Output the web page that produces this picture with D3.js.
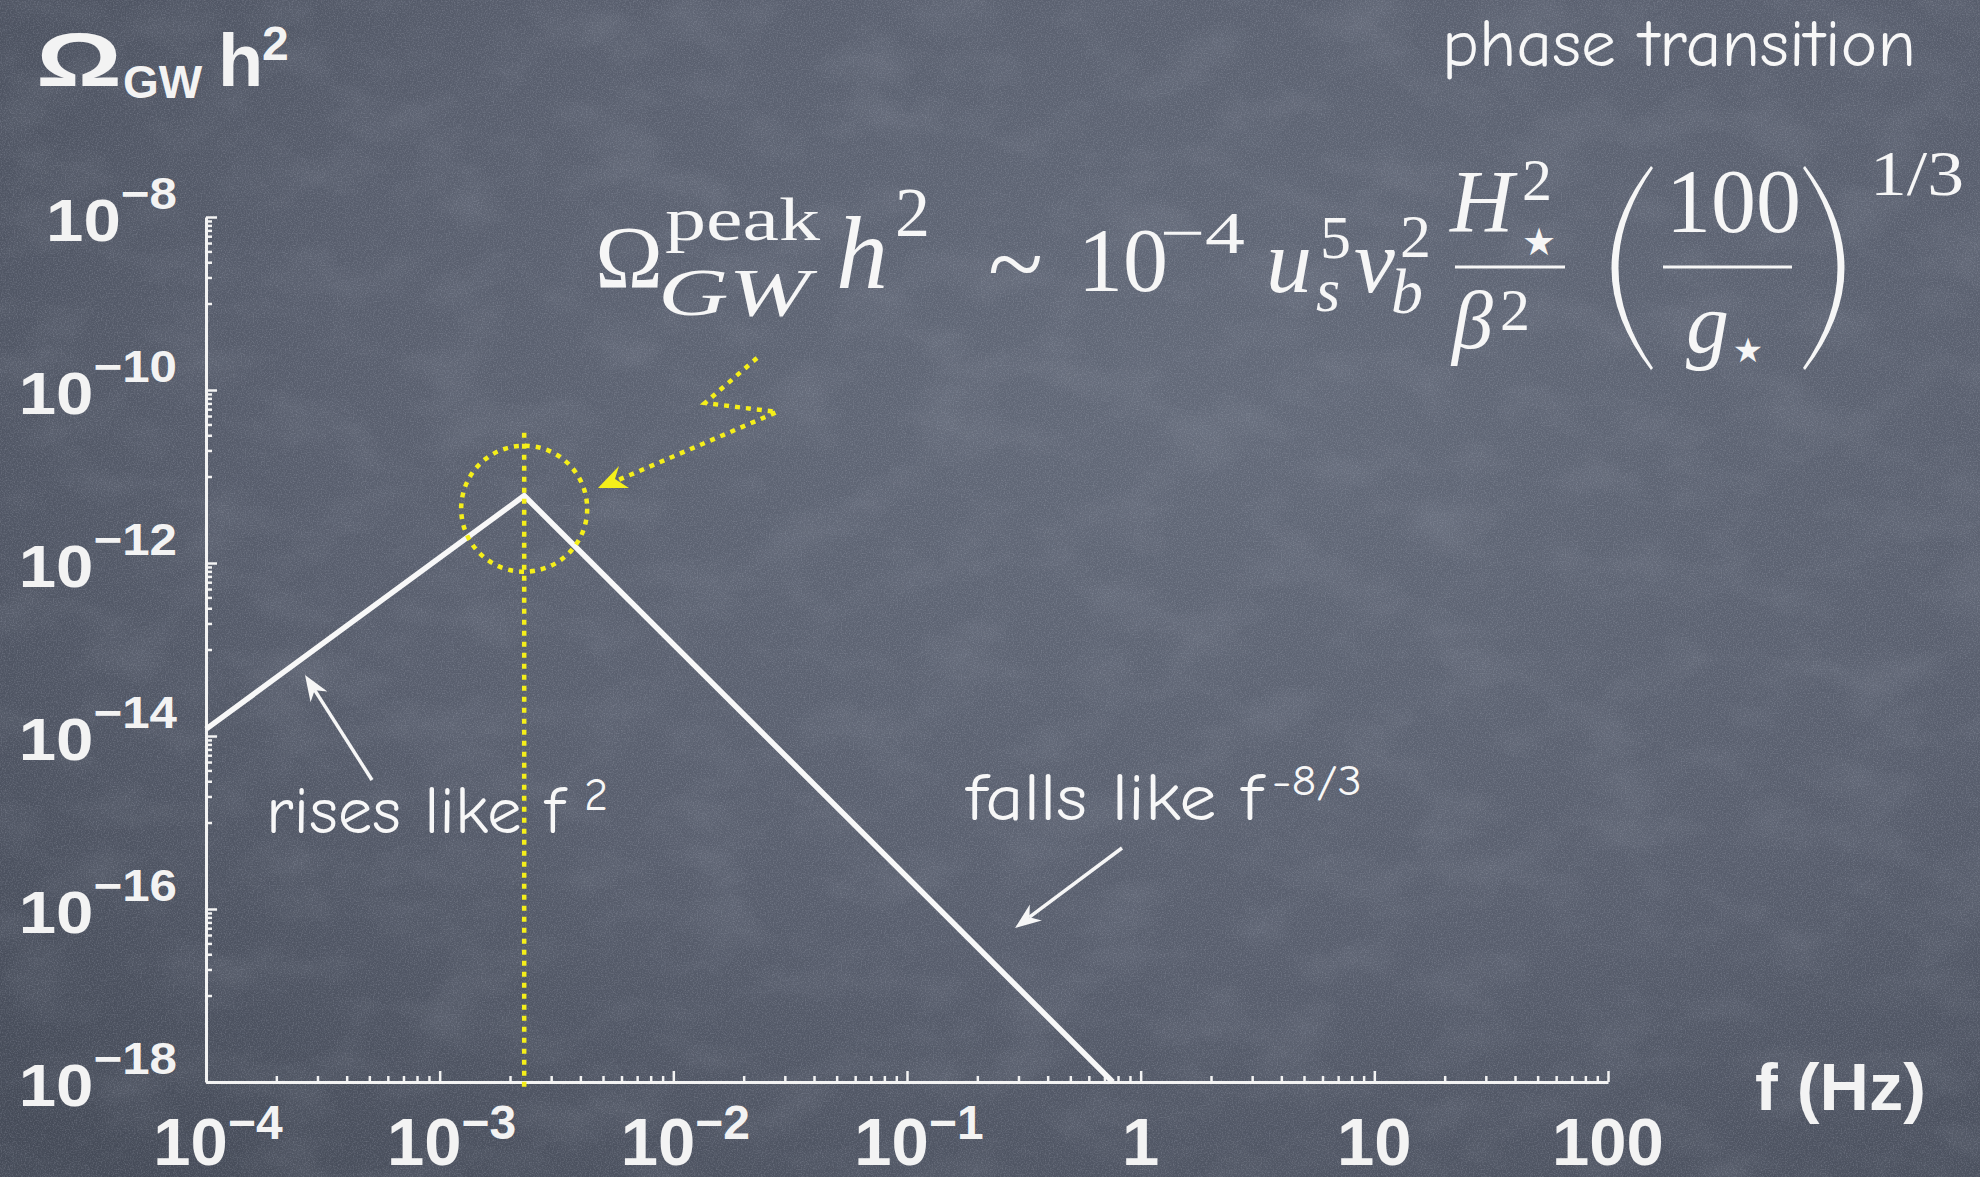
<!DOCTYPE html>
<html>
<head>
<meta charset="utf-8">
<script src="https://cdn.jsdelivr.net/npm/d3@7"></script>
<style>
  html, body { margin: 0; padding: 0; background: #555c6b; overflow: hidden; }
  svg { display: block; }
</style>
</head>
<body>
<svg id="board" width="1980" height="1177"></svg>
<script>
// Broken power-law GW spectrum: rises like f^2, peaks, falls like f^-8/3
const spectrumFreq  = [1e-4, 2.3e-3, 0.76];
const spectrumOmega = [1.2e-14, 6e-12, 1e-18];
const peakMarkerTop = 3.2e-11;

// Frequency axis (Hz)
const xTickValues = [1e-4, 1e-3, 1e-2, 1e-1, 1, 10, 100];
const xTickBase   = ["10", "10", "10", "10", "1", "10", "100"];
const xTickExp    = ["−4", "−3", "−2", "−1", "", "", ""];

// Omega_GW h^2 axis
const yTickValues = [1e-8, 1e-10, 1e-12, 1e-14, 1e-16, 1e-18];
const yTickBase   = ["10", "10", "10", "10", "10", "10"];
const yTickExp    = ["−8", "−10", "−12", "−14", "−16", "−18"];
const yMinorDecades = [-9, -11, -13, -15, -17];

const W = 1980, H = 1177;
const svg = d3.select("#board");

// ---------- chalkboard ----------
const defs = svg.append("defs");
const shade = defs.append("radialGradient").attr("id", "boardShade")
  .attr("cx", 0.62).attr("cy", 0.35).attr("r", 0.85);
shade.append("stop").attr("offset", 0).attr("stop-color", "#636a79");
shade.append("stop").attr("offset", 0.55).attr("stop-color", "#585e6d");
shade.append("stop").attr("offset", 1).attr("stop-color", "#454b58");

const dust = defs.append("filter").attr("id", "chalkDust")
  .attr("x", 0).attr("y", 0).attr("width", "100%").attr("height", "100%");
dust.append("feTurbulence").attr("type", "fractalNoise")
  .attr("baseFrequency", "0.012 0.02").attr("numOctaves", 4).attr("seed", 7);
dust.append("feColorMatrix").attr("type", "matrix")
  .attr("values", "0 0 0 0 0.82  0 0 0 0 0.86  0 0 0 0 0.95  1.0 0 0 0 -0.45");

const grain = defs.append("filter").attr("id", "grain")
  .attr("x", 0).attr("y", 0).attr("width", "100%").attr("height", "100%");
grain.append("feTurbulence").attr("type", "fractalNoise")
  .attr("baseFrequency", 0.75).attr("numOctaves", 2).attr("seed", 3);
grain.append("feColorMatrix").attr("type", "matrix")
  .attr("values", "0 0 0 0 0.75  0 0 0 0 0.78  0 0 0 0 0.88  0.9 0 0 0 -0.38");

const grainDark = defs.append("filter").attr("id", "grainDark")
  .attr("x", 0).attr("y", 0).attr("width", "100%").attr("height", "100%");
grainDark.append("feTurbulence").attr("type", "fractalNoise")
  .attr("baseFrequency", 0.5).attr("numOctaves", 2).attr("seed", 11);
grainDark.append("feColorMatrix").attr("type", "matrix")
  .attr("values", "0 0 0 0 0.15  0 0 0 0 0.16  0 0 0 0 0.22  -0.9 0 0 0 0.5");

svg.append("rect").attr("width", W).attr("height", H).attr("fill", "url(#boardShade)");
svg.append("rect").attr("width", W).attr("height", H).attr("filter", "url(#chalkDust)").attr("opacity", 0.16);
svg.append("rect").attr("width", W).attr("height", H).attr("filter", "url(#grain)").attr("opacity", 0.45);
svg.append("rect").attr("width", W).attr("height", H).attr("filter", "url(#grainDark)").attr("opacity", 0.35);

// ---------- scales ----------
const x = d3.scaleLog().domain([1e-4, 100]).range([206, 1608]);
const y = d3.scaleLog().domain([1e-18, 1e-8]).range([1082, 217]);

const chalk = "#f3f3f3";
const labelFont = "'Liberation Sans', Arial, Helvetica, sans-serif";
const handFont = "'Comic Sans MS', 'Comic Neue', 'Open Sans', sans-serif";
const mathFont = "'Liberation Serif', 'Times New Roman', serif";

// ---------- axes ----------
const xMinor = [];
for (let e = -4; e < 2; e++) for (let k = 2; k < 10; k++) xMinor.push(k * Math.pow(10, e));
const xAxis = d3.axisBottom(x)
  .tickValues(xTickValues.concat(xMinor))
  .tickSizeInner(-6).tickSizeOuter(0).tickFormat("");
const gx = svg.append("g").attr("transform", `translate(0,${y(1e-18)})`).call(xAxis);
gx.selectAll(".tick line")
  .attr("y2", d => xTickValues.includes(d) ? -11 : -6)
  .attr("stroke", chalk).attr("stroke-width", 2.5);
gx.select(".domain").attr("stroke", chalk).attr("stroke-width", 3);

const yMinor = [];
yMinorDecades.forEach(e => { for (let k = 1; k < 10; k++) yMinor.push(k * Math.pow(10, e)); });
const yAxis = d3.axisLeft(y)
  .tickValues(yTickValues.concat(yMinor))
  .tickSizeInner(-6).tickSizeOuter(0).tickFormat("");
const gy = svg.append("g").attr("transform", `translate(${x(1e-4)},0)`).call(yAxis);
gy.selectAll(".tick line")
  .attr("x2", d => yTickValues.includes(d) ? 11 : 6)
  .attr("stroke", chalk).attr("stroke-width", 2.5);
gy.select(".domain").attr("stroke", chalk).attr("stroke-width", 3);

// tick labels with powers of ten
const xl = svg.append("g").attr("font-family", labelFont).attr("font-weight", "bold").attr("fill", chalk);
xTickValues.forEach((v, i) => {
  const t = xl.append("text")
    .attr("x", x(v) + (xTickExp[i] ? 12 : 0)).attr("y", 1165)
    .attr("text-anchor", "middle").attr("font-size", 67);
  t.append("tspan").text(xTickBase[i]);
  if (xTickExp[i]) t.append("tspan").attr("dy", -26).attr("font-size", 48).text(xTickExp[i]);
});

const yl = svg.append("g").attr("font-family", labelFont).attr("font-weight", "bold").attr("fill", chalk);
yTickValues.forEach((v, i) => {
  const t = yl.append("text")
    .attr("transform", `translate(177,${y(v) + 24}) scale(1.12,1)`)
    .attr("text-anchor", "end").attr("font-size", 60);
  t.append("tspan").text(yTickBase[i]);
  t.append("tspan").attr("dy", -32).attr("font-size", 44).text(yTickExp[i]);
});

// axis titles
svg.append("text").attr("x", 1755).attr("y", 1110)
  .attr("font-family", labelFont).attr("font-weight", "bold").attr("font-size", 66)
  .attr("fill", chalk).attr("textLength", 171).attr("lengthAdjust", "spacingAndGlyphs")
  .text("f (Hz)");

const yt = svg.append("g").attr("font-family", labelFont).attr("font-weight", "bold").attr("fill", chalk);
yt.append("text").attr("x", 36).attr("y", 86).attr("font-size", 76)
  .attr("textLength", 86).attr("lengthAdjust", "spacingAndGlyphs").text("Ω");
yt.append("text").attr("x", 123).attr("y", 98).attr("font-size", 46).text("GW");
yt.append("text").attr("x", 218).attr("y", 86).attr("font-size", 74).text("h");
yt.append("text").attr("x", 262).attr("y", 60).attr("font-size", 48).text("2");

// ---------- spectrum ----------
const spectrum = spectrumFreq.map((f, i) => ({ f, omega: spectrumOmega[i] }));
const line = d3.line().x(d => x(d.f)).y(d => y(d.omega));
svg.append("path").datum(spectrum)
  .attr("d", line)
  .attr("fill", "none").attr("stroke", "#f8f8f8").attr("stroke-width", 5.5)
  .attr("stroke-linejoin", "miter");

// ---------- peak marker (yellow dotted) ----------
const yellow = "#f5ef1a";
const peakX = x(spectrumFreq[1]), peakY = y(spectrumOmega[1]);
const marks = svg.append("g").attr("fill", "none").attr("stroke", yellow)
  .attr("stroke-width", 4.5).attr("stroke-dasharray", "5 6");
marks.append("line")
  .attr("x1", peakX).attr("x2", peakX)
  .attr("y1", y(peakMarkerTop)).attr("y2", y(1e-18) + 6);
marks.append("circle").attr("cx", peakX).attr("cy", peakY + 13).attr("r", 63);
marks.append("path").attr("d", "M757,358 L705,403 L777,412 L616,481");
svg.append("path").attr("fill", yellow)
  .attr("d", "M598,488 L619,466 L615,479 L629,488 Z");

// ---------- annotations ----------
function arrow(x1, y1, x2, y2) {
  const dx = x2 - x1, dy = y2 - y1, len = Math.hypot(dx, dy);
  const ux = dx / len, uy = dy / len, px = -uy, py = ux;
  const hl = 26, hw = 10, notch = 18;
  svg.append("line").attr("x1", x1).attr("y1", y1)
    .attr("x2", x2 - ux * notch).attr("y2", y2 - uy * notch)
    .attr("stroke", "#f6f6f6").attr("stroke-width", 3.5);
  const bx = x2 - ux * hl, by = y2 - uy * hl;
  svg.append("path").attr("fill", "#f6f6f6").attr("d",
    `M${x2},${y2} L${bx + px * hw},${by + py * hw} L${x2 - ux * notch},${y2 - uy * notch} L${bx - px * hw},${by - py * hw} Z`);
}
arrow(372, 780, 305, 675);
arrow(1122, 848, 1015, 928);

const hand = svg.append("g").attr("font-family", handFont).attr("fill", "#f7f7f7").attr("font-weight", 500);
hand.append("text").attr("x", 1442).attr("y", 66).attr("font-size", 66)
  .attr("textLength", 474).attr("lengthAdjust", "spacingAndGlyphs").text("phase transition");
hand.append("text").attr("x", 266).attr("y", 833).attr("font-size", 66)
  .attr("textLength", 298).attr("lengthAdjust", "spacingAndGlyphs").text("rises like f");
hand.append("text").attr("x", 584).attr("y", 810).attr("font-size", 46).text("2");
hand.append("text").attr("x", 966).attr("y", 820).attr("font-size", 66)
  .attr("textLength", 296).attr("lengthAdjust", "spacingAndGlyphs").text("falls like f");
hand.append("text").attr("x", 1272).attr("y", 795).attr("font-size", 42)
  .attr("textLength", 90).attr("lengthAdjust", "spacingAndGlyphs").text("-8/3");

// ---------- peak amplitude formula ----------
const formula = svg.append("g").attr("font-family", mathFont).attr("fill", "#f6f6f6");
function glyph(txt, gx0, gy0, size, italic, len) {
  const t = formula.append("text").attr("x", gx0).attr("y", gy0).attr("font-size", size).text(txt);
  if (italic) t.attr("font-style", "italic");
  if (len) t.attr("textLength", len).attr("lengthAdjust", "spacingAndGlyphs");
  return t;
}
function star(cx, cy, size) {
  formula.append("text").attr("x", cx).attr("y", cy).attr("font-size", size)
    .attr("font-family", "'DejaVu Sans', sans-serif").attr("text-anchor", "middle").text("★");
}
glyph("Ω", 595, 287, 88, false, 68);
glyph("peak", 665, 240, 62, false, 155);
glyph("GW", 658, 315, 68, true, 152);
glyph("h", 836, 288, 104, true);
glyph("2", 895, 236, 70, false);
glyph("~", 988, 297, 100, false, 55);
glyph("10", 1078, 291, 90, false);
glyph("−4", 1160, 253, 60, false, 85);
glyph("u", 1266, 292, 92, true);
glyph("5", 1320, 258, 62, false);
glyph("s", 1316, 311, 62, true);
glyph("v", 1354, 292, 92, true);
glyph("2", 1400, 257, 62, false);
glyph("b", 1391, 313, 64, true);
// H*^2 / beta^2
glyph("H", 1450, 231, 88, true);
glyph("2", 1522, 200, 60, false);
star(1539, 255, 38);
formula.append("line").attr("x1", 1455).attr("x2", 1565).attr("y1", 267).attr("y2", 267)
  .attr("stroke", "#f6f6f6").attr("stroke-width", 3);
glyph("β", 1452, 348, 82, true);
glyph("2", 1500, 330, 60, false);
// (100 / g*)^(1/3)
formula.append("path").attr("d", "M1651,166 Q1572,268 1651,370 L1653,368 Q1584,268 1653,168 Z");
formula.append("path").attr("d", "M1805,166 Q1884,268 1805,370 L1803,368 Q1872,268 1803,168 Z");
glyph("100", 1666, 232, 90, false);
formula.append("line").attr("x1", 1663).attr("x2", 1792).attr("y1", 267).attr("y2", 267)
  .attr("stroke", "#f6f6f6").attr("stroke-width", 3);
glyph("g", 1686, 352, 86, true);
star(1748, 362, 34);
glyph("1/3", 1870, 195, 64, false, 94);
</script>
</body>
</html>
